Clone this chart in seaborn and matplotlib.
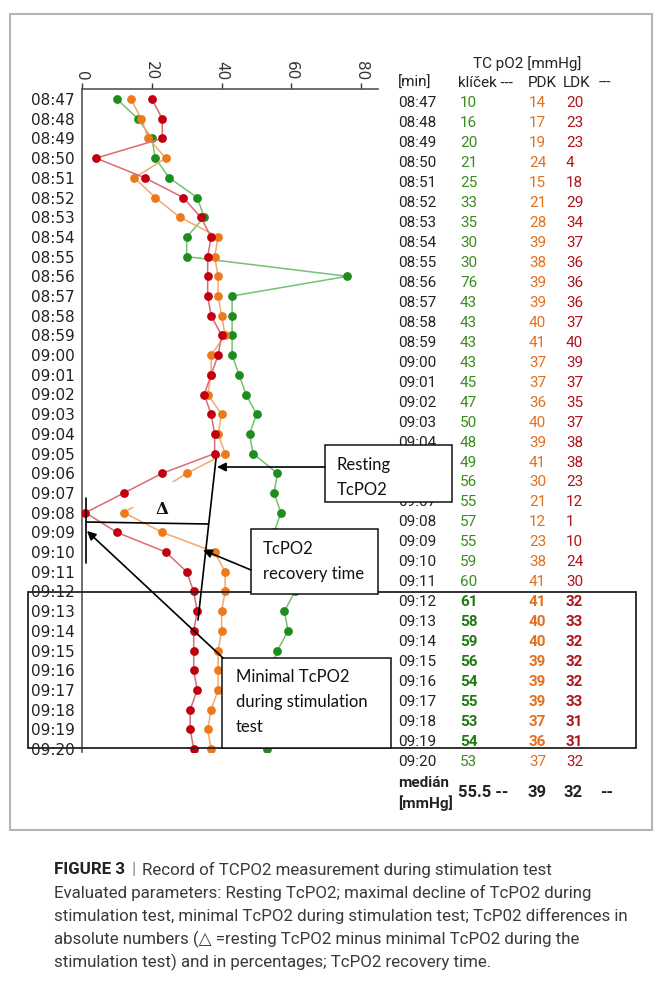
import matplotlib
matplotlib.use("Agg")
import matplotlib.pyplot as plt
from matplotlib.patches import Rectangle
import seaborn as sns

# data (TC pO2 [mmHg])
times = ["08:47", "08:48", "08:49", "08:50", "08:51", "08:52", "08:53", "08:54",
         "08:55", "08:56", "08:57", "08:58", "08:59", "09:00", "09:01", "09:02",
         "09:03", "09:04", "09:05", "09:06", "09:07", "09:08", "09:09", "09:10",
         "09:11", "09:12", "09:13", "09:14", "09:15", "09:16", "09:17", "09:18",
         "09:19", "09:20"]
klicek = [10, 16, 20, 21, 25, 33, 35, 30, 30, 76, 43, 43, 43, 43, 45, 47, 50,
          48, 49, 56, 55, 57, 55, 59, 60, 61, 58, 59, 56, 54, 55, 53, 54, 53]
pdk = [14, 17, 19, 24, 15, 21, 28, 39, 38, 39, 39, 40, 41, 37, 37, 36, 40,
       39, 41, 30, 21, 12, 23, 38, 41, 41, 40, 40, 39, 39, 39, 37, 36, 37]
ldk = [20, 23, 23, 4, 18, 29, 34, 37, 36, 36, 36, 37, 40, 39, 37, 35, 37,
       38, 38, 23, 12, 1, 10, 24, 30, 32, 33, 32, 32, 32, 33, 31, 31, 32]
median_vals = ["55.5 --", "39", "32", "--"]
bold_rows = range(25, 33)   # 09:12 - 09:19
x_ticks = [0, 20, 40, 60, 80]

sns.set_style("white")
plt.rcParams["font.family"] = ["DejaVu Sans"]

W, H = 654, 984
fig = plt.figure(figsize=(W / 100, H / 100), dpi=100)

# main chart, time runs downwards
ax = fig.add_axes([82 / W, 1 - 752 / H, 296 / W, (752 - 89) / H])
pos = list(range(len(times)))

series = [
    (klicek, "#74c274", "#1f8c1f", 2.0),
    (pdk, "#f3a86c", "#ec7a1c", 2.2),
    (ldk, "#dc6a72", "#c00010", 2.5),
]
for vals, lc, mc, z in series:
    sns.lineplot(x=vals, y=pos, orient="y", color=lc, lw=1.1, ax=ax, zorder=z)
    sns.scatterplot(x=vals, y=pos, color=mc, s=40, linewidth=0, ax=ax, zorder=z + 0.05)

# the 09:07 PDK point is blanked out under the delta label in the original
ax.add_patch(Rectangle((14, 19.45), 15.5, 1.25, facecolor="white", edgecolor="none", zorder=2.4))

ax.set_xlim(0, 84.8)
ax.set_ylim(33.15, -0.51)
ax.xaxis.tick_top()
ax.set_xticks(x_ticks)
ax.set_yticks(pos)
ax.set_yticklabels(times)
ax.tick_params(axis="x", labelrotation=-90, length=4, width=1, colors="#333333", labelsize=11, pad=2)
ax.tick_params(axis="y", length=4, width=1, colors="#222222", labelsize=11, pad=1)
for s in ["right", "bottom"]:
    ax.spines[s].set_visible(False)
for s in ["left", "top"]:
    ax.spines[s].set_color("#555555")
    ax.spines[s].set_linewidth(1.2)
ax.set_xlabel("")
ax.set_ylabel("")

# value table on the right
ax_t = fig.add_axes([390 / W, 1 - 822 / H, 250 / W, (822 - 43.1) / H])
ax_t.set_xlim(390, 640)
ax_t.set_ylim(36, -3)
ax_t.axis("off")
ax_t.set_zorder(1)
tf = ["Roboto", "DejaVu Sans"]
fs = 11
green, orange, red = "#3a8c1e", "#e2701e", "#b0141c"
ax_t.text(527, -2, "TC pO2 [mmHg]", ha="center", va="center", fontsize=fs, family=tf, color="#222222")
for x, lab in [(398, "[min]"), (458, "klíček ---"), (528, "PDK"), (563, "LDK"), (599, "---")]:
    ax_t.text(x, -1, lab, ha="left", va="center", fontsize=fs, family=tf, color="#222222")
for i, t in enumerate(times):
    fw = "bold" if i in bold_rows else "normal"
    ax_t.text(398, i, t, ha="left", va="center", fontsize=fs, family=tf, color="#222222")
    ax_t.text(460, i, str(klicek[i]), ha="left", va="center", fontsize=fs, family=tf,
              color="#1e7a10" if fw == "bold" else green, weight=fw)
    ax_t.text(529, i, str(pdk[i]), ha="left", va="center", fontsize=fs, family=tf,
              color=orange, weight=fw)
    ax_t.text(566, i, str(ldk[i]), ha="left", va="center", fontsize=fs, family=tf,
              color=red, weight=fw)
ax_t.text(398, 34.05, "medián", ha="left", va="center", fontsize=11, family=tf, weight="bold", color="#222222")
ax_t.text(398, 35.05, "[mmHg]", ha="left", va="center", fontsize=11, family=tf, weight="bold", color="#222222")
for x, v in zip([458, 528, 563, 600], median_vals):
    ax_t.text(x, 34.5, v, ha="left", va="center", fontsize=12, family=tf, weight="bold", color="#222222")

# annotations, boxes and caption in figure pixels
ax_o = fig.add_axes([0, 0, 1, 1])
ax_o.set_xlim(0, W)
ax_o.set_ylim(H, 0)
ax_o.axis("off")
ax_o.patch.set_alpha(0)
ax_o.set_zorder(5)

ax_o.add_patch(Rectangle((10, 14), 642, 816, fill=False, edgecolor="#b4b4b4", lw=1.5))
ax_o.add_patch(Rectangle((28, 592), 608, 156, fill=False, edgecolor="#222222", lw=1.3))

bf = ["Lato", "DejaVu Sans"]
boxes = [
    ((325, 445, 127, 57), ["Resting", "TcPO2"], 337, 465),
    ((251, 529, 127, 65), ["TcPO2", "recovery time"], 263, 549),
    ((222, 658, 169, 90), ["Minimal TcPO2", "during stimulation", "test"], 236, 677),
]
for (bx, by, bw, bh), lines, tx, ty in boxes:
    ax_o.add_patch(Rectangle((bx, by), bw, bh, facecolor="white", edgecolor="#111111", lw=1.1))
    for k, ln in enumerate(lines):
        ax_o.text(tx, ty + k * 25, ln, ha="left", va="center", fontsize=12, family=bf, color="#111111")

arrow = dict(arrowstyle="-|>", color="black", lw=1.2, mutation_scale=13, shrinkA=0, shrinkB=0)
ax_o.annotate("", xy=(217, 467), xytext=(325, 467), arrowprops=arrow)
ax_o.annotate("", xy=(203, 550), xytext=(251, 570), arrowprops=arrow)
ax_o.annotate("", xy=(87, 531), xytext=(223, 658), arrowprops=arrow)
ax_o.plot([198, 216], [620, 459], color="black", lw=1.2)
ax_o.plot([86, 208], [522, 524], color="black", lw=1.2)
ax_o.plot([86, 86], [498, 563], color="black", lw=1.2)
ax_o.text(162, 510, "Δ", ha="center", va="center", fontsize=12, family="DejaVu Serif",
          weight="bold", color="#111111")

cf = ["Roboto", "DejaVu Sans"]
cfs = 12.2
ccol = "#3a3a3a"
renderer = fig.canvas.get_renderer()
t1 = ax_o.text(54, 870, "FIGURE 3", ha="left", va="center", fontsize=cfs, family=cf, weight="bold", color="#222222")
x1 = ax_o.transData.inverted().transform(t1.get_window_extent(renderer))[1][0]
ax_o.text(x1 + 6, 870, "|", ha="left", va="center", fontsize=cfs, family=cf, color="#888888")
ax_o.text(x1 + 17, 870, "Record of TCPO2 measurement during stimulation test",
          ha="left", va="center", fontsize=cfs, family=cf, color=ccol)
caption = [
    "Evaluated parameters: Resting TcPO2; maximal decline of TcPO2 during",
    "stimulation test, minimal TcPO2 during stimulation test; TcP02 differences in",
    "absolute numbers (△ =resting TcPO2 minus minimal TcPO2 during the",
    "stimulation test) and in percentages; TcPO2 recovery time.",
]
for k, ln in enumerate(caption):
    ax_o.text(54, 893 + k * 23, ln, ha="left", va="center", fontsize=cfs,
              family=cf, color=ccol)

fig.savefig("out.png", dpi=100)
